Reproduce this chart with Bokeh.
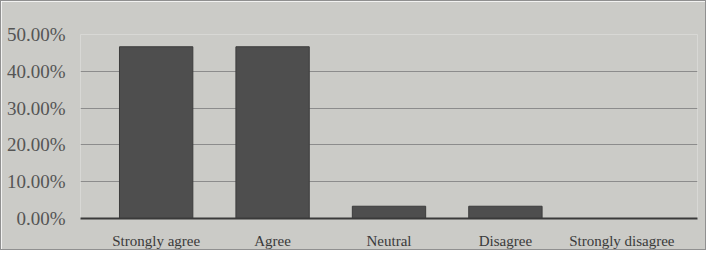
from bokeh.plotting import figure
from bokeh.models import ColumnDataSource, NumeralTickFormatter, FixedTicker, Range1d, FactorRange
from bokeh.embed import file_html
from bokeh.resources import INLINE

categories = ["Strongly agree", "Agree", "Neutral", "Disagree", "Strongly disagree"]
shares = [0.4667, 0.4667, 0.0333, 0.0333, 0.0]
y_ticks = [0.0, 0.1, 0.2, 0.3, 0.4, 0.5]

src = ColumnDataSource(dict(cat=categories, val=shares))

xr = FactorRange(factors=categories, range_padding=0.15, range_padding_units="absolute")
p = figure(x_range=xr, y_range=Range1d(0, 0.5), width=706, height=250,
           output_backend="svg", toolbar_location=None,
           min_border_left=79, min_border_right=10, min_border_top=33, min_border_bottom=31)
p.background_fill_color = "#cbcbc7"
p.border_fill_color = "#cbcbc7"
p.outline_line_color = None

p.vbar(x="cat", top="val", width=0.63, source=src, fill_color="#4e4e4e", line_color="#3c3c3c")

p.yaxis.ticker = FixedTicker(ticks=y_ticks)
p.yaxis.formatter = NumeralTickFormatter(format="0.00%")
p.yaxis.axis_line_color = None
p.yaxis.major_tick_line_color = None
p.yaxis.minor_tick_line_color = None
p.yaxis.major_label_text_font = "Liberation Serif"
p.yaxis.major_label_text_font_size = "19px"
p.yaxis.major_label_text_color = "#555555"
p.yaxis.major_label_standoff = 9

p.xaxis.axis_line_color = "#3a3a3a"
p.xaxis.axis_line_width = 2
p.xaxis.major_tick_line_color = None
p.xaxis.minor_tick_line_color = None
p.xaxis.major_label_text_font = "Liberation Serif"
p.xaxis.major_label_text_font_size = "15px"
p.xaxis.major_label_text_color = "#3a3a3a"
p.xaxis.major_label_standoff = 8

p.xgrid.grid_line_color = None
p.ygrid.grid_line_color = "#8c8c8c"
p.ygrid.grid_line_width = 1

p.styles = {"border": "1px solid #909090"}

open("out.html", "w").write(file_html(p, INLINE))
